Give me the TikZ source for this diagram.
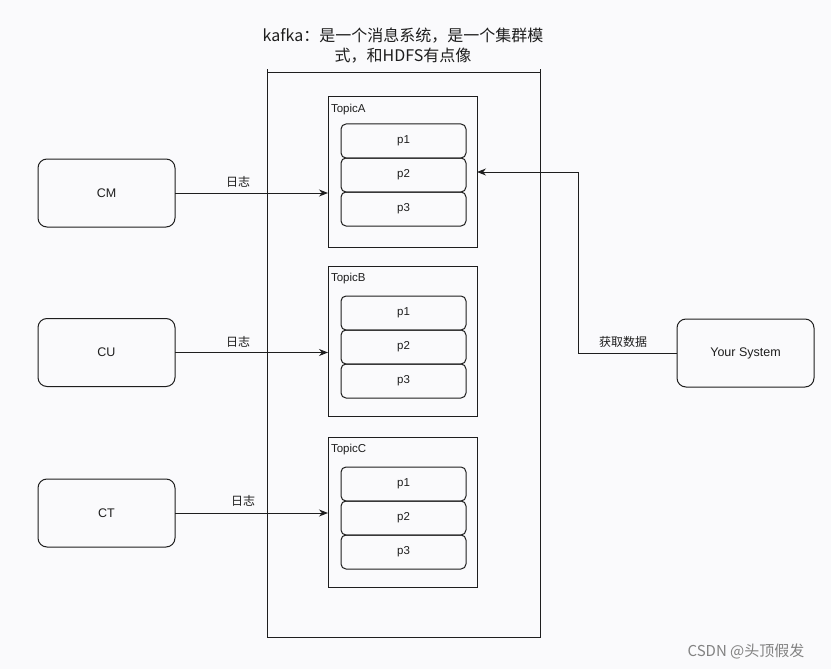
\documentclass[tikz,border=0pt]{standalone}
\usepackage{fontspec}
\setmainfont{Liberation Sans}
\newfontfamily\cjk{Noto Sans CJK SC}
\usetikzlibrary{arrows.meta}
\definecolor{bg}{RGB}{250,250,252}
\definecolor{ink}{RGB}{30,30,30}
\definecolor{wm}{RGB}{130,130,130}
\begin{document}
\begin{tikzpicture}[x=1pt,y=-1pt,
  every node/.style={inner sep=0pt, outer sep=0pt, text=ink},
  base/.style={draw=ink, line width=1pt},
  container/.style={base, rectangle, minimum width=273pt, minimum height=564pt},
  topicbox/.style={base, rectangle, minimum width=149pt, minimum height=150pt},
  part/.style={base, rectangle, rounded corners=5pt, minimum width=125pt, minimum height=34pt, font=\fontsize{11.5}{13}\selectfont},
  client/.style={base, rectangle, rounded corners=9pt, minimum width=137pt, minimum height=68pt, font=\fontsize{12.5}{14}\selectfont},
  tlabel/.style={anchor=north west, font=\fontsize{11.5}{13}\selectfont},
  elabel/.style={font=\cjk\fontsize{12}{14}\selectfont},
  arr/.style={draw=ink, line width=1pt, -{Stealth[length=9pt,width=7pt]}}
]
\fill[bg] (0,0) rectangle (831,669);
\useasboundingbox (0,0) rectangle (831,669);

% title
\node[align=center, font=\cjk\fontsize{16}{20}\selectfont] (title) at (403,46) {kafka：是一个消息系统，是一个集群模\\式，和HDFS有点像};

% container
\node[container] (kafka) at (403.5,355) {};
\draw[base] (kafka.north west) -- ++(0,-4);
\draw[base] (kafka.north east) -- ++(0,-4);

% topics
\node[topicbox] (tA) at (402.5,172) {};
\node[topicbox] (tB) at (402.5,341) {};
\node[topicbox] (tC) at (402.5,512) {};
\node[tlabel] (tAl) at ([shift={(3,7)}]tA.north west) {TopicA};
\node[tlabel] (tBl) at ([shift={(3,7)}]tB.north west) {TopicB};
\node[tlabel] (tCl) at ([shift={(3,7)}]tC.north west) {TopicC};

% partitions
\node[part] (a1) at (403.5,141) {p1};
\node[part] (a2) at (403.5,175) {p2};
\node[part] (a3) at (403.5,209) {p3};
\node[part] (b1) at (403.5,313) {p1};
\node[part] (b2) at (403.5,347) {p2};
\node[part] (b3) at (403.5,381) {p3};
\node[part] (c1) at (403.5,484) {p1};
\node[part] (c2) at (403.5,518) {p2};
\node[part] (c3) at (403.5,552) {p3};

% clients
\node[client] (CM) at (106.5,193) {CM};
\node[client] (CU) at (106.5,352.5) {CU};
\node[client] (CT) at (106.5,513) {CT};
\node[client] (ys) at (745.5,353) {Your System};

% arrows
\draw[arr] (CM.east) -- (CM.east -| tA.west);
\draw[arr] (CU.east) -- (CU.east -| tB.west);
\draw[arr] (CT.east) -- (CT.east -| tC.west);
\node[elabel] (l1) at (238,182) {日志};
\node[elabel] (l2) at (238,342) {日志};
\node[elabel] (l3) at (243,501) {日志};

\coordinate (bend) at (578,353);
\draw[arr] (ys.west) -- (bend) |- (tA.east);
\node[elabel] (l4) at (623,342) {获取数据};

% watermark
\node[font=\cjk\fontsize{15}{17}\selectfont, text=wm] (wmk) at (746,651) {CSDN @头顶假发};
\end{tikzpicture}
\end{document}
